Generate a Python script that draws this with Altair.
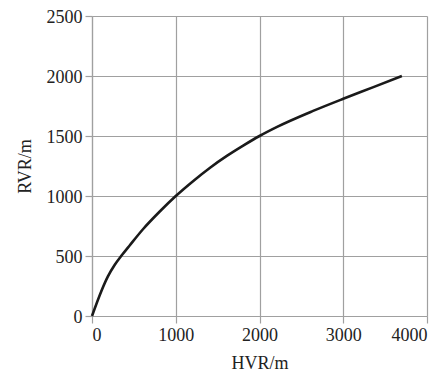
import altair as alt
import pandas as pd

hvr = [0, 110, 190, 270, 360, 452, 611, 815, 1000, 1210, 1410, 1610, 1810, 2000, 2210, 2640, 3000, 3360, 3700]
rvr = [0, 205, 330, 425, 510, 590, 725, 875, 1000, 1126, 1236, 1334, 1422, 1500, 1576, 1709, 1810, 1907, 2000]

df = pd.DataFrame({"HVR": hvr, "RVR": rvr})

font = "Liberation Serif"

chart = alt.Chart(df).mark_line(
    color="#1a1a1a", strokeWidth=2.6, interpolate="monotone"
).encode(
    x=alt.X("HVR:Q", scale=alt.Scale(domain=[0, 4000], nice=False),
            axis=alt.Axis(values=[0, 1000, 2000, 3000, 4000], title="HVR/m",
                          format="d", titlePadding=10)),
    y=alt.Y("RVR:Q", scale=alt.Scale(domain=[0, 2500], nice=False),
            axis=alt.Axis(values=[0, 500, 1000, 1500, 2000, 2500], title="RVR/m",
                          format="d", titlePadding=12, labelOffset=1.5)),
).properties(
    width=335, height=300,
    autosize=alt.AutoSizeParams(type="none"),
    padding={"left": 84, "top": 8, "right": 10, "bottom": 57},
).configure_axis(
    labelFont=font, titleFont=font, labelFontSize=18, titleFontSize=18,
    titleFontWeight="normal", labelColor="#222", titleColor="#222",
    gridColor="#a0a0a0", gridWidth=1.2, domainColor="#a0a0a0", domainWidth=1.2,
    tickColor="#a0a0a0", tickSize=7, tickWidth=1.2, labelPadding=3,
).configure_view(stroke=None)

chart.save("out.html", embed_options={"renderer": "svg", "actions": False})
